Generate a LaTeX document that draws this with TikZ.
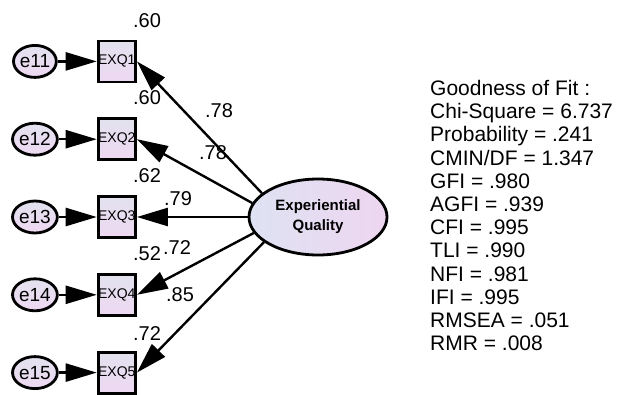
\documentclass[tikz,border=0pt]{standalone}
\usepackage{fontspec}
\setmainfont{Liberation Sans}
\usepackage{tikz}
\usetikzlibrary{matrix,positioning,arrows.meta,shapes.geometric}
\definecolor{semtop}{RGB}{226,226,238}
\definecolor{sembot}{RGB}{238,216,242}
\definecolor{semleft}{RGB}{222,226,242}
\definecolor{semright}{RGB}{238,214,240}
\begin{document}
\begin{tikzpicture}[x=1pt,y=1pt,
        errc/.style={ellipse, draw, line width=2.8pt, minimum width=41pt, minimum height=32pt, inner sep=0pt,
            top color=semtop, bottom color=sembot, font=\fontsize{19}{19}\selectfont},
        obsbox/.style={rectangle, draw, line width=2.8pt, minimum width=35pt, minimum height=41pt, inner sep=0pt,
            top color=semtop, bottom color=sembot, font=\fontsize{14}{14}\selectfont},
        latent/.style={ellipse, draw, line width=2.8pt, minimum width=138pt, minimum height=76pt, inner sep=0pt,
            left color=semleft, right color=semright, align=center, font=\fontsize{15}{20}\selectfont\bfseries},
        semarr/.style={-{Triangle[length=31pt,width=18pt]}, line width=2.4pt},
        coef/.style={inner sep=0pt, font=\fontsize{20}{20}\selectfont}]
        \useasboundingbox (0,0) rectangle (620,394);
        \matrix(m) [matrix of nodes, row sep=34pt, column sep=38pt, inner sep=0pt,
        nodes={anchor=center}, column 1/.style={nodes={errc}}, column 2/.style={nodes={obsbox}},
        ampersand replacement=\&] at (74,177) {
            e11 \& EXQ1 \\
            e12 \& EXQ2 \\
            e13 \& EXQ3 \\
            e14 \& EXQ4 \\
            e15 \& EXQ5 \\
        };
        \node (eq) [latent] at (318,177) {Experiential\\Quality};
        \draw[semarr] (m-1-1) -- (m-1-2);
        \draw[semarr] (m-2-1) -- (m-2-2);
        \draw[semarr] (m-3-1) -- (m-3-2);
        \draw[semarr] (m-4-1) -- (m-4-2);
        \draw[semarr] (m-5-1) -- (m-5-2);
        \draw[semarr] (eq.157) -- (m-1-2.east);
        \draw[semarr] (eq.168) -- (m-2-2.east);
        \draw[semarr] (eq.180) -- (m-3-2.east);
        \draw[semarr] (eq.194) -- (m-4-2.east);
        \draw[semarr] (eq.205) -- (m-5-2.east);
        \node (r1) [coef, above right=12pt and -4pt of m-1-2.north east] {.60};
        \node (r2) [coef, above right=12pt and -4pt of m-2-2.north east] {.60};
        \node (r3) [coef, above right=12pt and -4pt of m-3-2.north east] {.62};
        \node (r4) [coef, above right=12pt and -4pt of m-4-2.north east] {.52};
        \node (r5) [coef, above right=10pt and -4pt of m-5-2.north east] {.72};
        \node (l1) [coef] at (219,283) {.78};
        \node (l2) [coef] at (213,241) {.78};
        \node (l3) [coef] at (178,195) {.79};
        \node (l4) [coef] at (177,146) {.72};
        \node (l5) [coef] at (180,99) {.85};
        \node (gof) [anchor=north west, align=left, inner sep=0pt, font=\fontsize{21}{23.2}\selectfont] at (430,314)
            {Goodness of Fit :\\Chi-Square = 6.737\\Probability = .241\\CMIN/DF = 1.347\\GFI = .980\\AGFI = .939\\
             CFI = .995\\TLI = .990\\NFI = .981\\IFI = .995\\RMSEA = .051\\RMR = .008};
\end{tikzpicture}
\end{document}
